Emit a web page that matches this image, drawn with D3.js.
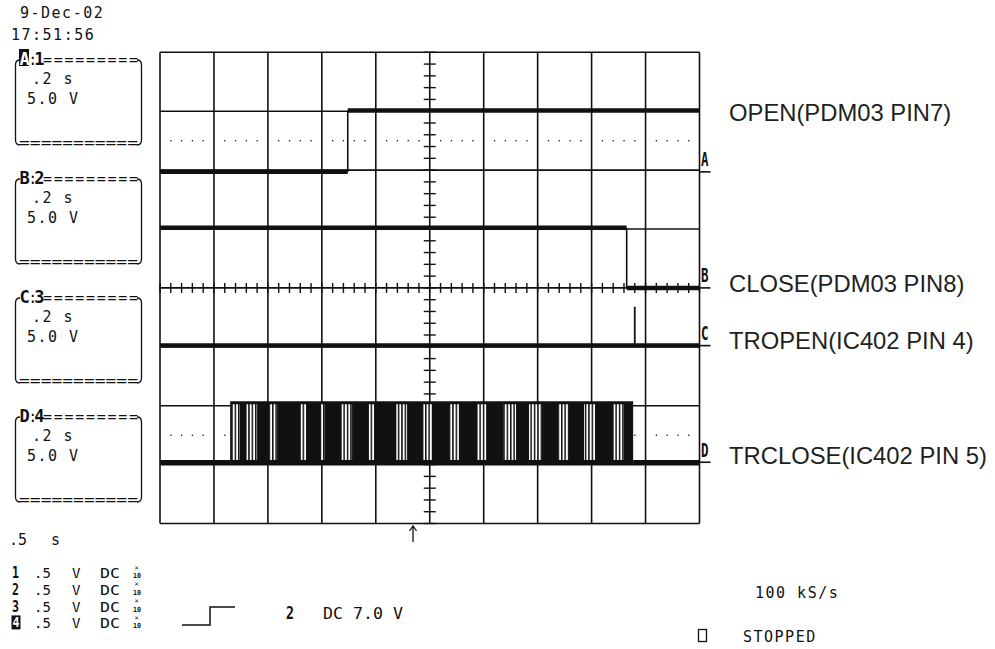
<!DOCTYPE html>
<html>
<head>
<meta charset="utf-8">
<script src="https://cdn.jsdelivr.net/npm/d3@7"></script>
<style>
  body { margin: 0; background: #fff; }
  svg { display: block; }
  .mono { font-family: "DejaVu Sans Mono", monospace; font-size: 15px; fill: #111; }
  .bold { font-weight: bold; }
  .lbl { font-family: "Liberation Sans", Arial, sans-serif; font-size: 23.8px; fill: #231f20; }
</style>
</head>
<body>
<div id="chart"></div>
<script>
// header
const dateText = '9-Dec-02';
const clockText = '17:51:56';

// channel boxes
const channelNames = ['A', 'B', 'C', 'D'];
const channelSources = ['1', '2', '3', '4'];
const channelTimeDiv = ['.2 s', '.2 s', '.2 s', '.2 s'];
const channelVoltDiv = ['5.0 V', '5.0 V', '5.0 V', '5.0 V'];
const channelOffsets = [1.97, 0, -0.98, -2.96]; // ground position, divisions
const signalNames = ['OPEN(PDM03 PIN7)', 'CLOSE(PDM03 PIN8)', 'TROPEN(IC402 PIN 4)', 'TRCLOSE(IC402 PIN 5)'];
const voltsPerDiv = 5;

// traces: [time in divisions, volts], step after
const traceA = [[0, 0], [3.48, 5.2], [10, 5.2]];
const traceB = [[0, 5.1], [8.65, 0], [10, 0]];
const traceC = [[0, 0], [10, 0]];
const spikesC = [[8.80, 3.3]];
const traceD = [[0, 0], [1.30, 0], [8.77, 0], [10, 0]];
// trace D pulse burst
const burstD = [1.30, 8.77];
const burstHighD = 5.05;
const sparseD = [
  [1.33, 1.48], [1.60, 1.80], [2.02, 2.17], [2.60, 2.72], [2.98, 3.05],
  [3.36, 3.56], [3.87, 3.98], [4.38, 4.58], [4.88, 5.04], [5.36, 5.54],
  [5.86, 6.06], [6.36, 6.60], [6.84, 7.08], [7.38, 7.58], [7.86, 8.08],
  [8.40, 8.60]
];

// bottom readouts
const timebase = ['.5', 's'];
const inputSources = ['1', '2', '3', '4'];
const inputScale = ['.5', '.5', '.5', '.5'];
const inputCoupling = ['DC', 'DC', 'DC', 'DC'];
const triggerPos = 4.69; // divisions
const triggerSource = '2';
const triggerText = 'DC 7.0 V';
const sampleRate = '100 kS/s';
const acqState = 'STOPPED';

const W = 995, H = 649;
const svg = d3.select('#chart').append('svg')
  .attr('width', W).attr('height', H);

svg.append('rect').attr('width', W).attr('height', H).attr('fill', '#fff');

const x = d3.scaleLinear().domain([0, 10]).range([160, 699.5]);
const y = d3.scaleLinear().domain([-4, 4]).range([523.5, 52.3]);
const ink = '#111';

// helper for sized text
function mtext(g, tx, ty0, str, size, bold, fit) {
  const t = g.append('text').attr('class', 'mono' + (bold ? ' bold' : ''))
    .attr('x', tx).attr('y', ty0).style('font-size', size + 'px').text(str);
  if (fit) t.attr('textLength', fit).attr('lengthAdjust', 'spacingAndGlyphs');
  return t;
}
// tspan pieces inside one text: [x, str, size, bold, fit, fill, y]
function mrow(g, ty0, pieces) {
  const t = g.append('text').attr('class', 'mono').attr('y', ty0);
  pieces.forEach(p => {
    const s = t.append('tspan').attr('x', p[0]).style('font-size', p[2] + 'px')
      .style('font-weight', p[3] ? 'bold' : 'normal').text(p[1]);
    if (p[4]) s.attr('textLength', p[4]).attr('lengthAdjust', 'spacingAndGlyphs');
    if (p[5]) s.style('fill', p[5]);
    if (p[6] !== undefined) s.attr('y', p[6]);
  });
  return t;
}

// Grid
const grid = svg.append('g').attr('stroke', ink).attr('stroke-width', 1.6);
grid.selectAll('line.v').data(d3.range(0, 11)).enter().append('line')
  .attr('x1', d => x(d)).attr('x2', d => x(d))
  .attr('y1', y(4)).attr('y2', y(-4));
grid.selectAll('line.h').data(d3.range(-4, 5)).enter().append('line')
  .attr('y1', d => y(d)).attr('y2', d => y(d))
  .attr('x1', x(0)).attr('x2', x(10));

// centre axis minor ticks
const minorY = d3.range(-4, 4.001, 0.2);
const minorX = d3.range(0, 10.001, 0.2);
const ticks = svg.append('g').attr('stroke', ink).attr('stroke-width', 1.4);
ticks.selectAll('line.ty').data(minorY).enter().append('line')
  .attr('x1', x(5) - 6).attr('x2', x(5) + 6)
  .attr('y1', d => y(d)).attr('y2', d => y(d));
ticks.selectAll('line.tx').data(minorX).enter().append('line')
  .attr('y1', y(0) - 5).attr('y2', y(0) + 5)
  .attr('x1', d => x(d)).attr('x2', d => x(d));

// dotted reference rows
const dotX = minorX.filter(d => Math.abs(d - Math.round(d)) > 0.01);
[2.5, -2.5].forEach(row => {
  svg.append('g').selectAll('rect').data(dotX).enter().append('rect')
    .attr('x', d => x(d) - 0.6).attr('y', y(row) - 0.6)
    .attr('width', 1.3).attr('height', 1.3).attr('fill', ink);
});

// Traces
const traces = [traceA, traceB, traceC, traceD];
const ty = (ch, v) => y(channelOffsets[ch] + v / voltsPerDiv);

// stripe pattern for sparse pulse groups
const defs = svg.append('defs');
const pat = defs.append('pattern').attr('id', 'pulses')
  .attr('patternUnits', 'userSpaceOnUse').attr('width', 3.4).attr('height', 10);
pat.append('rect').attr('width', 3.4).attr('height', 10).attr('fill', '#fff');
pat.append('rect').attr('x', 0).attr('width', 1.5).attr('height', 10).attr('fill', ink);

// D burst
const gD = svg.append('g');
gD.append('rect')
  .attr('x', x(burstD[0])).attr('width', x(burstD[1]) - x(burstD[0]))
  .attr('y', ty(3, burstHighD) - 1.5)
  .attr('height', ty(3, 0) - ty(3, burstHighD) + 1.5)
  .attr('fill', ink);
gD.selectAll('rect.sp').data(sparseD).enter().append('rect')
  .attr('class', 'sp')
  .attr('x', d => x(d[0])).attr('width', d => x(d[1]) - x(d[0]))
  .attr('y', ty(3, burstHighD) + 1.5)
  .attr('height', ty(3, 0) - ty(3, burstHighD) - 3.5)
  .attr('fill', 'url(#pulses)');

traces.forEach((pts, ch) => {
  const g = svg.append('g').attr('stroke', ink);
  const segs = d3.pairs(pts);
  g.selectAll('line.h').data(segs).enter().append('line')
    .attr('x1', d => x(d[0][0])).attr('x2', d => x(d[1][0]))
    .attr('y1', d => ty(ch, d[0][1])).attr('y2', d => ty(ch, d[0][1]))
    .attr('stroke-width', 4.5);
  g.selectAll('line.v').data(segs.filter(d => d[0][1] !== d[1][1])).enter().append('line')
    .attr('x1', d => x(d[1][0])).attr('x2', d => x(d[1][0]))
    .attr('y1', d => ty(ch, d[0][1])).attr('y2', d => ty(ch, d[1][1]))
    .attr('stroke-width', 1.6);
});

svg.append('g').attr('stroke', ink).attr('stroke-width', 1.8)
  .selectAll('line').data(spikesC).enter().append('line')
  .attr('x1', d => x(d[0])).attr('x2', d => x(d[0]))
  .attr('y1', ty(2, 0)).attr('y2', d => ty(2, d[1]));

// Channel ground markers on right edge
channelNames.forEach((name, ch) => {
  const gy = ty(ch, 0);
  mtext(svg, x(10) + 1.5, gy - 5.5, name, 19, true, 7.5);
  svg.append('line').attr('stroke', ink).attr('stroke-width', 1.6)
    .attr('x1', x(10)).attr('x2', x(10) + 11)
    .attr('y1', gy).attr('y2', gy);
  svg.append('text').attr('class', 'lbl')
    .attr('x', 729).attr('y', [121, 291.5, 348.5, 463.5][ch])
    .text(signalNames[ch]);
});

// Header date/time
mtext(svg, 20, 18, dateText, 15, false).attr('letter-spacing', 1.5);
mtext(svg, 11, 40, clockText, 15, false).attr('letter-spacing', 1.5);

// Channel boxes
channelNames.forEach((name, i) => {
  const y0 = 50 + i * 119;
  const g = svg.append('g');
  if (i === 0) {
    g.append('rect').attr('x', 19).attr('y', y0 - 1).attr('width', 10).attr('height', 17).attr('fill', ink);
  }
  // one flowing header line: name : source ========
  const hdr = g.append('text').attr('class', 'mono').attr('x', 19.5).attr('y', y0 + 15);
  hdr.append('tspan').style('font-size', '17px').style('font-weight', 'bold')
    .attr('letter-spacing', -1.4).style('fill', i === 0 ? '#fff' : ink).text(name);
  hdr.append('tspan').style('font-size', '15px').attr('letter-spacing', -3.2).text(':');
  hdr.append('tspan').style('font-size', '17px').style('font-weight', 'bold')
    .attr('letter-spacing', -1.4).text(channelSources[i]);
  hdr.append('tspan').style('font-size', '15px').attr('letter-spacing', 1.7).text('=========');
  mtext(g, 19, y0 + 98, '===========', 15, false, 119);
  g.append('path').attr('fill', 'none').attr('stroke', ink).attr('stroke-width', 1.3)
    .attr('d', `M20,${y0 + 10} Q15.5,${y0 + 10} 15.5,${y0 + 15} V${y0 + 90} Q15.5,${y0 + 95} 20,${y0 + 95}`);
  g.append('path').attr('fill', 'none').attr('stroke', ink).attr('stroke-width', 1.3)
    .attr('d', `M137,${y0 + 10} Q141.5,${y0 + 10} 141.5,${y0 + 15} V${y0 + 90} Q141.5,${y0 + 95} 137,${y0 + 95}`);
  mtext(g, 32, y0 + 34, channelTimeDiv[i], 15, false).attr('letter-spacing', 1.5);
  mtext(g, 27, y0 + 53.5, channelVoltDiv[i], 15, false).attr('letter-spacing', 1.5);
});

// Trigger position arrow
const ax = x(triggerPos);
svg.append('path').attr('fill', 'none').attr('stroke', ink).attr('stroke-width', 1.3)
  .attr('d', `M${ax},542 V527 M${ax - 3.5},531 L${ax},526 L${ax + 3.5},531`);

// Bottom left readouts
mrow(svg, 545, [[9, timebase[0], 15, false], [51, timebase[1], 15, false]]);

inputSources.forEach((src, i) => {
  const by = 578 + i * 16.8;
  if (i === 3) {
    svg.append('rect').attr('x', 11.5).attr('y', by - 13).attr('width', 9).attr('height', 14).attr('fill', ink);
  }
  mrow(svg, by, [
    [i === 3 ? 12.5 : 12, src, i === 3 ? 14 : 15, true, 7, i === 3 ? '#fff' : null, i === 3 ? by - 1 : by],
    [34, inputScale[i], 14, false, null, null, by],
    [72, 'V', 14, false, null, null, by],
    [100, inputCoupling[i], 14, false, 20, null, by],
    [134.5, '×', 7, false, null, null, by - 8.5],
    [133, '10', 7, true, 8, null, by]
  ]);
});

// Trigger readout
svg.append('path').attr('fill', 'none').attr('stroke', ink).attr('stroke-width', 1.5)
  .attr('d', 'M182,625 H210 V607 H235');
mrow(svg, 619, [[286, triggerSource, 18, true, 8], [323, triggerText, 15, false, 80]]);

// Acquisition readouts
mtext(svg, 755, 598, sampleRate, 15, false).attr('letter-spacing', 1.5);
svg.append('rect').attr('x', 698.5).attr('y', 629.5).attr('width', 8).attr('height', 12)
  .attr('fill', 'none').attr('stroke', ink).attr('stroke-width', 1.3);
mtext(svg, 743, 642, acqState, 15, false).attr('letter-spacing', 1.5);
</script>
</body>
</html>
